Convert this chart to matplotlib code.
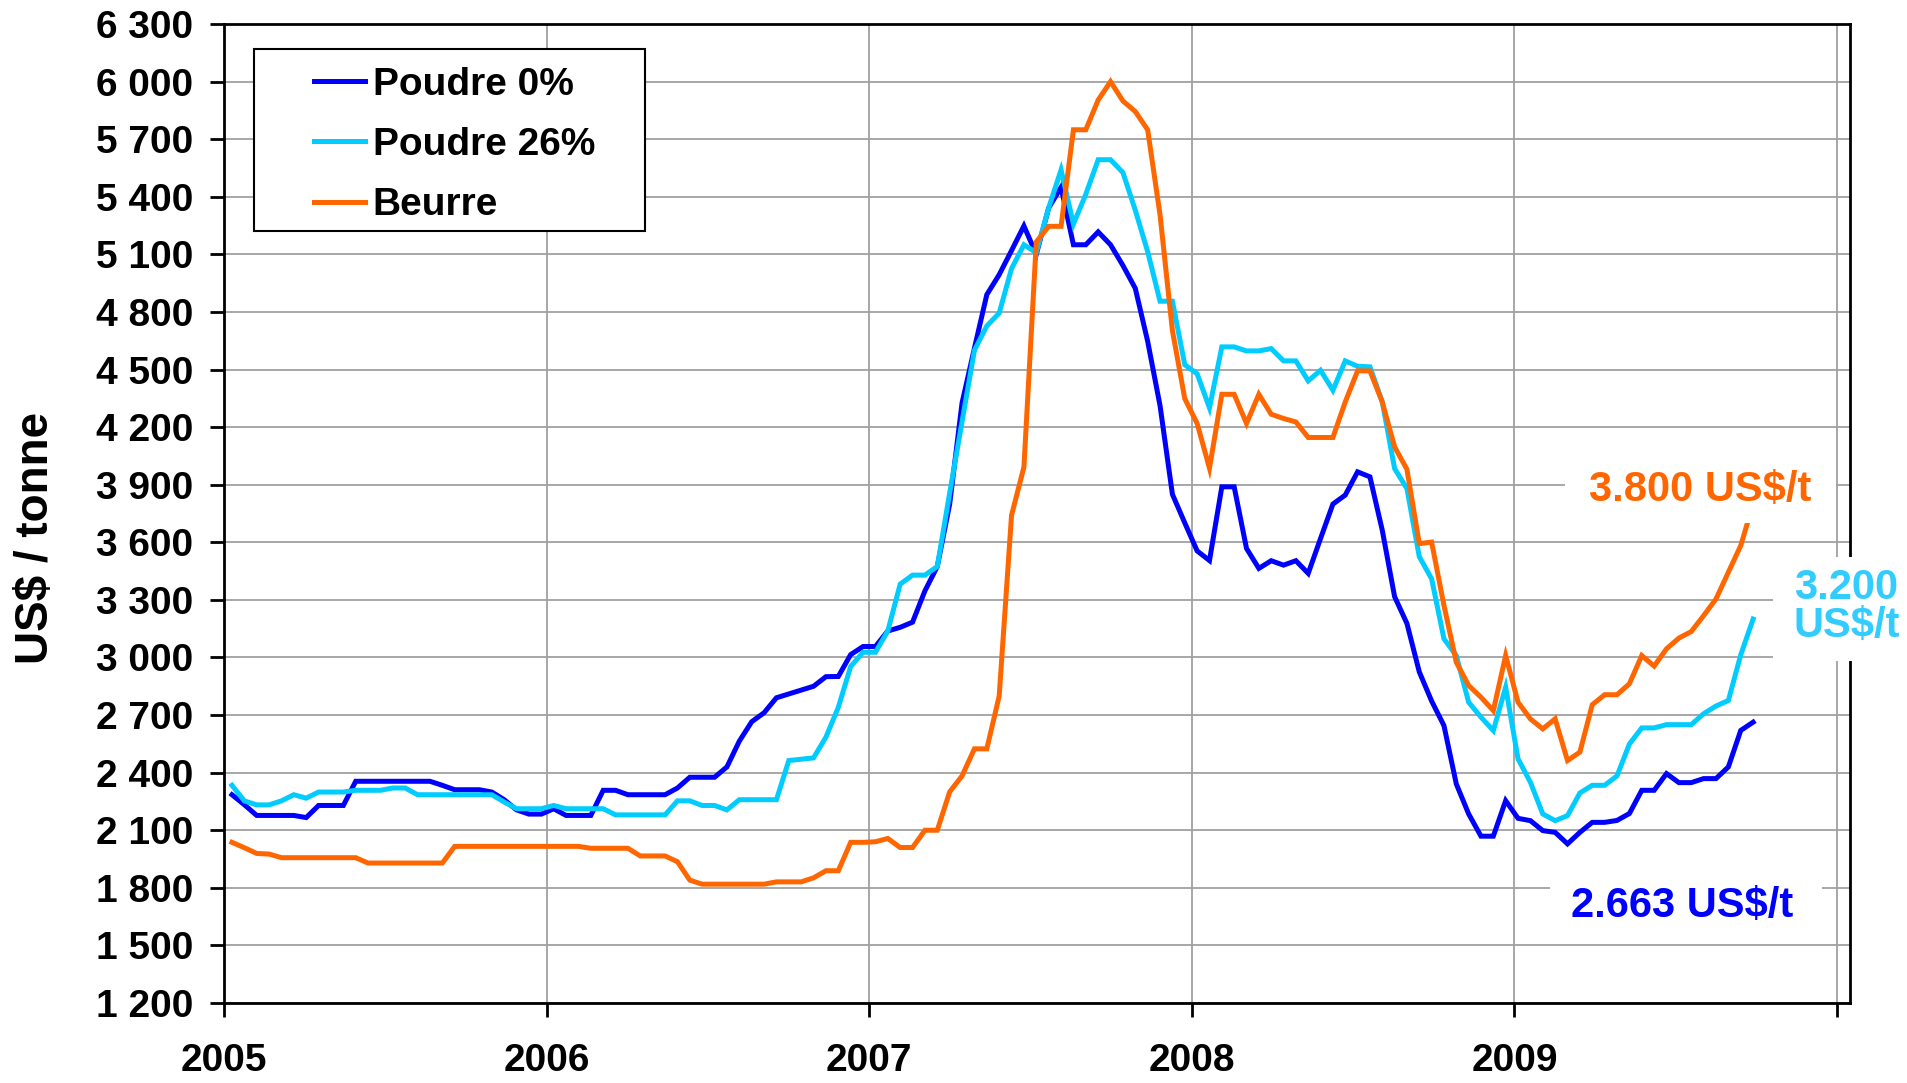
import matplotlib
matplotlib.use("Agg")
import matplotlib.pyplot as plt
from matplotlib.patches import Rectangle
from matplotlib.ticker import FixedLocator, FuncFormatter
import numpy as np
import pandas as pd

# biweekly quotes, Jan 2005 -> Oct 2009
dates = pd.date_range("2005-01-10", periods=124, freq="14D")

poudre_0 = [
    2285, 2233, 2177, 2177, 2177, 2177, 2166, 2229, 2229, 2229,
    2355, 2355, 2355, 2355, 2355, 2355, 2355, 2334, 2311, 2311,
    2311, 2299, 2259, 2206, 2184, 2184, 2212, 2177, 2177, 2177,
    2308, 2308, 2285, 2285, 2285, 2285, 2320, 2376, 2376, 2376,
    2430, 2564, 2665, 2712, 2790, 2810, 2830, 2850, 2900, 2901,
    3015, 3057, 3057, 3138, 3157, 3184, 3347, 3474, 3799, 4326,
    4611, 4890, 4994, 5120, 5248, 5100, 5342, 5449, 5150, 5150,
    5217, 5150, 5042, 4923, 4647, 4312, 3850, 3701, 3555, 3505,
    3889, 3889, 3568, 3464, 3504, 3481, 3504, 3438, 3620, 3799,
    3846, 3967, 3941, 3663, 3317, 3177, 2925, 2773, 2645, 2341,
    2185, 2069, 2069, 2254, 2162, 2150, 2098, 2089, 2029, 2089,
    2141, 2141, 2151, 2187, 2308, 2308, 2395, 2348, 2348, 2369,
    2369, 2430, 2620, 2663]

poudre_26 = [
    2334, 2253, 2232, 2232, 2253, 2285, 2267, 2299, 2299, 2299,
    2308, 2308, 2308, 2320, 2320, 2285, 2285, 2285, 2285, 2285,
    2285, 2285, 2247, 2212, 2212, 2212, 2229, 2212, 2212, 2212,
    2212, 2180, 2180, 2180, 2180, 2180, 2253, 2253, 2229, 2229,
    2206, 2259, 2259, 2259, 2259, 2463, 2470, 2477, 2585, 2740,
    2953, 3027, 3027, 3138, 3382, 3429, 3429, 3474, 3857, 4228,
    4600, 4727, 4794, 5026, 5150, 5109, 5342, 5540, 5258, 5413,
    5593, 5593, 5526, 5330, 5114, 4856, 4856, 4525, 4478, 4300,
    4618, 4618, 4597, 4597, 4609, 4545, 4545, 4441, 4496, 4392,
    4545, 4517, 4514, 4332, 3984, 3880, 3525, 3410, 3097, 3010,
    2767, 2689, 2619, 2845, 2472, 2350, 2185, 2150, 2176, 2294,
    2334, 2334, 2383, 2549, 2633, 2633, 2650, 2650, 2650, 2707,
    2747, 2776, 3014, 3200]

beurre = [
    2037, 2009, 1979, 1976, 1957, 1957, 1957, 1957, 1957, 1957,
    1957, 1929, 1929, 1929, 1929, 1929, 1929, 1929, 2016, 2016,
    2016, 2016, 2016, 2016, 2016, 2016, 2016, 2016, 2016, 2006,
    2006, 2006, 2006, 1966, 1966, 1966, 1936, 1840, 1819, 1819,
    1819, 1819, 1819, 1819, 1831, 1831, 1831, 1852, 1889, 1889,
    2037, 2037, 2040, 2057, 2010, 2010, 2100, 2100, 2300, 2383,
    2524, 2524, 2798, 3741, 3992, 5165, 5246, 5246, 5749, 5749,
    5904, 6000, 5899, 5844, 5749, 5306, 4703, 4348, 4219, 3986,
    4371, 4371, 4219, 4371, 4267, 4245, 4227, 4146, 4146, 4146,
    4331, 4493, 4493, 4331, 4097, 3980, 3593, 3601, 3271, 2975,
    2854, 2793, 2723, 3010, 2767, 2680, 2628, 2680, 2463, 2507,
    2754, 2806, 2806, 2863, 3010, 2955, 3045, 3101, 3135, 3218,
    3305, 3444, 3583, 3800]

series_names = ["Poudre 0%", "Poudre 26%", "Beurre"]
series_colors = ["#0000ff", "#00ccff", "#ff6600"]
year_ticks = [2005, 2006, 2007, 2008, 2009, 2010]
year_labels = ["2005", "2006", "2007", "2008", "2009", ""]

plt.rcParams["font.family"] = ["Liberation Sans", "DejaVu Sans"]
plt.rcParams["font.weight"] = "bold"

W, H = 1907, 1083


def fx(x):
    return x / W


def fy(y):
    return 1 - y / H


# decimal years
t = dates.year + (dates.dayofyear - 1) / np.where(dates.is_leap_year, 366, 365)

fig = plt.figure(figsize=(W / 100, H / 100), dpi=100)
ax = fig.add_axes([fx(224), fy(1003), fx(1850) - fx(224), fy(24) - fy(1003)])

lines = []
for vals, name, col in zip([poudre_0, poudre_26, beurre], series_names, series_colors):
    ln, = ax.plot(t, vals, color=col, lw=3.6, label=name, solid_joinstyle="miter")
    lines.append(ln)

ax.set_xlim(2005, 2010.04)
ax.set_ylim(1200, 6300)
ax.xaxis.set_major_locator(FixedLocator(year_ticks))
ax.set_xticklabels(year_labels)
ax.yaxis.set_major_locator(FixedLocator(np.arange(1200, 6301, 300)))
ax.yaxis.set_major_formatter(FuncFormatter(lambda v, p: f"{v:,.0f}".replace(",", " ")))
ax.grid(True, color="#a0a0a0", lw=1.3)
ax.set_axisbelow(True)
for s in ax.spines.values():
    s.set_linewidth(2)
    s.set_color("black")
ax.tick_params(axis="both", direction="out", length=10, width=2, labelsize=28)
ax.tick_params(axis="x", pad=19)
ax.tick_params(axis="y", pad=12)

ax.set_ylabel("US$ / tonne", fontsize=33, fontweight="bold")
ax.yaxis.set_label_coords(-0.102, 0.475)

# legend frame drawn at figure level so it covers the grid
fig.add_artist(Rectangle((fx(254), fy(231)), fx(645) - fx(254), fy(49) - fy(231),
                         transform=fig.transFigure, facecolor="white",
                         edgecolor="black", lw=1.5, zorder=1))
fig.legend(handles=lines, loc="upper left", bbox_to_anchor=(fx(314), fy(67)),
           frameon=False, borderpad=0, borderaxespad=0, handlelength=1.31,
           handletextpad=0.2, labelspacing=0.62,
           prop={"size": 28, "weight": "bold"})

# end value labels on white boxes
def end_label(box, text, color, xy, ha="center"):
    x0, y0, x1, y1 = box
    fig.add_artist(Rectangle((fx(x0), fy(y1)), fx(x1) - fx(x0), fy(y0) - fy(y1),
                             transform=fig.transFigure, facecolor="white",
                             edgecolor="none", zorder=1))
    fig.text(fx(xy[0]), fy(xy[1]), text, color=color, fontsize=30,
             fontweight="bold", ha=ha, va="center", linespacing=0.95)


end_label((1565, 462, 1836, 523), f"{beurre[-1] / 1000:.3f} US$/t", "#ff6600", (1700, 490))
end_label((1773, 557, 1907, 661), f"{poudre_26[-1] / 1000:.3f}\nUS$/t", "#33ccff",
          (1794, 607), ha="left")
end_label((1550, 870, 1822, 940), f"{poudre_0[-1] / 1000:.3f} US$/t", "#0000ff", (1682, 906))

fig.savefig("out.png", dpi=100)
